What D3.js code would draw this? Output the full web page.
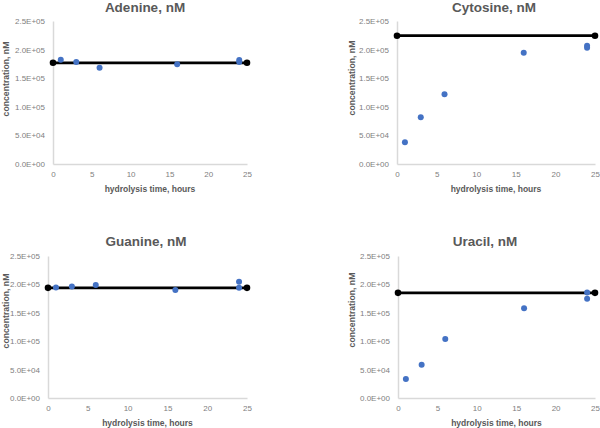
<!DOCTYPE html>
<html><head><meta charset="utf-8">
<script src="https://cdn.jsdelivr.net/npm/d3@7"></script>
<style>body{margin:0;background:#fff}svg{display:block}</style>
</head><body>
<svg id="c" width="600" height="428"></svg>
<script>
const hours = [1, 3, 6, 16, 24, 24];
const adenine = [182300, 178300, 168400, 174300, 181800, 178300];
const cytosine = [37900, 81600, 121800, 194600, 206800, 203300];
const guanine = [194500, 196500, 198800, 190000, 204600, 194000];
const uracil = [33300, 58400, 104000, 157800, 185700, 174600];
const refLevels = [177000, 224300, 193900, 185100];
const titles = ["Adenine, nM", "Cytosine, nM", "Guanine, nM", "Uracil, nM"];
const xTicks = [0, 5, 10, 15, 20, 25];
const yTicks = [0, 50000, 100000, 150000, 200000, 250000];
const xTitle = "hydrolysis time, hours";
const yTitle = "concentration, nM";

const series = [adenine, cytosine, guanine, uracil];
const layout = [
  {x0: 53, x1: 247, y0: 164, y1: 21, tx: 145, ty: 12, ytx: 6, yty: 79},
  {x0: 397, x1: 595, y0: 164, y1: 21, tx: 494, ty: 12, ytx: 352, yty: 78},
  {x0: 48, x1: 247, y0: 398, y1: 256, tx: 146, ty: 246, ytx: 6, yty: 311},
  {x0: 398, x1: 595, y0: 398, y1: 256, tx: 485, ty: 246, ytx: 352, yty: 310}
];
const svg = d3.select("#c");
function expFmt(v){
  const s = v.toExponential(1);
  const [m, e] = s.split("e");
  const n = parseInt(e, 10);
  return m + "E" + (n < 0 ? "-" : "+") + String(Math.abs(n)).padStart(2, "0");
}
const FONT = "Liberation Sans, Arial, sans-serif";
series.forEach((vals, i) => {
  const L = layout[i];
  const x = d3.scaleLinear().domain([0, 25]).range([L.x0, L.x1]);
  const y = d3.scaleLinear().domain([0, 250000]).range([L.y0, L.y1]);
  const g = svg.append("g");
  const xa = g.append("g").attr("transform", `translate(0,${L.y0})`)
    .call(d3.axisBottom(x).tickValues(xTicks).tickSize(0).tickPadding(7).tickFormat(d3.format("d")));
  const ya = g.append("g").attr("transform", `translate(${L.x0},0)`)
    .call(d3.axisLeft(y).tickValues(yTicks).tickSize(0).tickPadding(8).tickFormat(expFmt));
  [xa, ya].forEach(a => {
    a.select(".domain").attr("stroke", "#d9d9d9").attr("stroke-width", 1.5);
    a.selectAll("text").attr("fill", "#808080").attr("font-family", FONT).attr("font-size", 8);
  });
  g.append("text").attr("x", L.tx).attr("y", L.ty).attr("text-anchor", "middle")
    .attr("font-family", FONT).attr("font-weight", "bold")
    .attr("font-size", 13.5).attr("fill", "#595959").text(titles[i]);
  g.append("text").attr("x", (L.x0 + L.x1) / 2).attr("y", L.y0 + 28).attr("text-anchor", "middle")
    .attr("font-family", FONT).attr("font-weight", "bold")
    .attr("font-size", 8.5).attr("fill", "#595959").text(xTitle);
  g.append("text").attr("transform", `translate(${L.ytx + 3},${L.yty}) rotate(-90)`).attr("text-anchor", "middle")
    .attr("font-family", FONT).attr("font-weight", "bold")
    .attr("font-size", 8.7).attr("fill", "#595959").text(yTitle);
  const ref = [[0, refLevels[i]], [25, refLevels[i]]];
  g.append("path").datum(ref).attr("fill", "none").attr("stroke", "#000").attr("stroke-width", 2.75)
    .attr("d", d3.line().x(d => x(d[0])).y(d => y(d[1])));
  g.selectAll(".rp").data(ref).join("circle").attr("cx", d => x(d[0])).attr("cy", d => y(d[1]))
    .attr("r", 3.3).attr("fill", "#000");
  g.selectAll(".pt").data(vals.map((v, k) => [hours[k], v])).join("circle")
    .attr("cx", d => x(d[0])).attr("cy", d => y(d[1])).attr("r", 3).attr("fill", "#4472C4");
});
</script>
</body></html>
